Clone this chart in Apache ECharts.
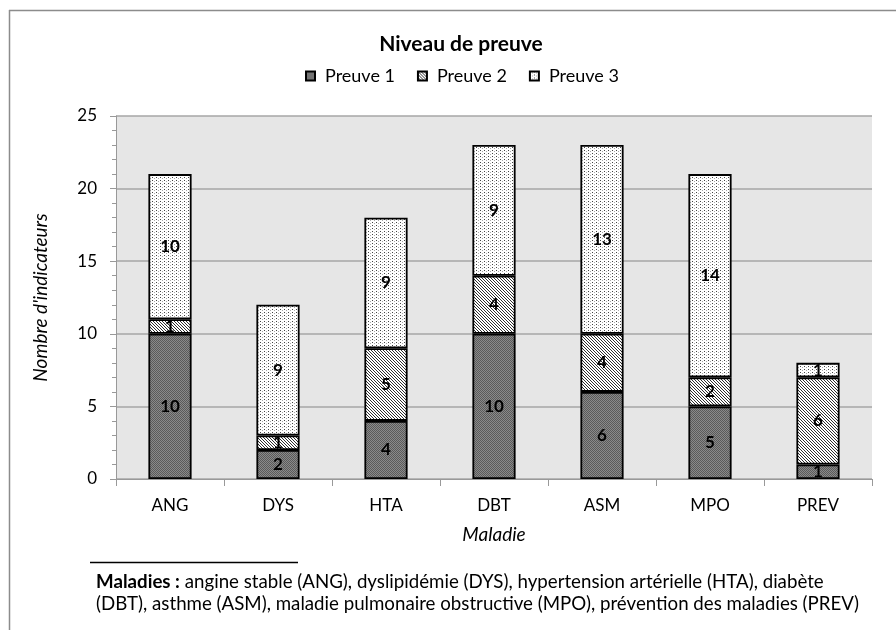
<!DOCTYPE html>
<html><head><meta charset="utf-8">
<script src="https://cdn.jsdelivr.net/npm/echarts@6/dist/echarts.min.js"></script>
<style>html,body{margin:0;padding:0;background:#fff}#c{width:896px;height:630px}</style>
</head><body><div id="c"></div>
<script>
const categories = ['ANG','DYS','HTA','DBT','ASM','MPO','PREV'];
const preuve1 = [10, 2, 4, 10, 6, 5, 1];
const preuve2 = [1, 1, 5, 4, 4, 2, 6];
const preuve3 = [10, 9, 9, 9, 13, 14, 1];
const seriesNames = ['Preuve 1','Preuve 2','Preuve 3'];
const yTicks = [0, 5, 10, 15, 20, 25];

const FONT = 'Lato';

function pat(w, h, draw) {
  const c = document.createElement('canvas');
  c.width = w; c.height = h;
  const g = c.getContext('2d');
  draw(g);
  return {image: c, repeat: 'repeat'};
}
const p1 = pat(2, 2, g => {
  g.fillStyle = '#8a8a8a'; g.fillRect(0,0,2,2);
  g.fillStyle = '#5a5a5a'; g.fillRect(0,0,1,1); g.fillRect(1,1,1,1);
});
const p2 = pat(3, 3, g => {
  g.fillStyle = '#ffffff'; g.fillRect(0,0,3,3);
  g.fillStyle = '#2e2e2e';
  for (let i = 0; i < 3; i++) g.fillRect(i, i, 1, 1);
});
const p3 = pat(4, 3, g => {
  g.fillStyle = '#ffffff'; g.fillRect(0,0,4,3);
  g.fillStyle = '#444444'; g.fillRect(0,0,1,1);
  g.fillStyle = '#aaaaaa'; g.fillRect(2,1,1,1);
});
const patterns = [p1, p2, p3];
const dataSets = [preuve1, preuve2, preuve3];

const chart = echarts.init(document.getElementById('c'), null, {renderer: 'canvas'});
const series = dataSets.map((d, i) => ({
  name: seriesNames[i],
  type: 'bar',
  stack: 'total',
  barWidth: '40%',
  data: d,
  itemStyle: {color: patterns[i], borderColor: '#000', borderWidth: 1.8},
  label: {show: true, position: 'inside', color: '#000', fontWeight: 'bold', fontSize: 17, fontFamily: FONT},
  emphasis: {disabled: true}
}));

chart.setOption({
  animation: false,
  textStyle: {fontFamily: FONT},
  title: {
    text: 'Niveau de preuve', left: 456, top: 29, textAlign: 'center',
    textStyle: {fontSize: 21, fontWeight: 'bold', color: '#000', fontFamily: FONT}
  },
  legend: {
    top: 62, left: 300, itemWidth: 9, itemHeight: 9, itemGap: 22,
    icon: 'rect',
    textStyle: {fontSize: 18, color: '#000', fontFamily: FONT, padding: [0,0,0,5]},
    data: seriesNames
  },
  grid: {left: 116, right: 24, top: 116, bottom: 151, containLabel: false,
         show: true, backgroundColor: '#e6e6e6', borderWidth: 0},
  xAxis: {
    type: 'category', data: categories,
    name: 'Maladie', nameLocation: 'middle', nameGap: 46,
    nameTextStyle: {fontStyle: 'italic', fontSize: 19, color: '#000', fontFamily: FONT},
    axisLine: {lineStyle: {color: '#999', width: 1}},
    axisTick: {show: true, length: 7, lineStyle: {color: '#999'}},
    axisLabel: {fontSize: 17, color: '#000', margin: 18, fontFamily: FONT}
  },
  yAxis: {
    type: 'value', min: 0, max: 25, interval: 5,
    name: 'Nombre d\'indicateurs', nameLocation: 'middle', nameGap: 66,
    nameTextStyle: {fontStyle: 'italic', fontSize: 19, color: '#000', fontFamily: FONT},
    axisLine: {show: true, lineStyle: {color: '#999', width: 1}},
    axisTick: {show: true, length: 6, lineStyle: {color: '#999'}},
    minorTick: {show: true, splitNumber: 5, length: 4, lineStyle: {color: '#999'}},
    splitLine: {show: true, lineStyle: {color: '#a6a6a6', width: 1.5}},
    axisLabel: {fontSize: 17, color: '#000', margin: 19, fontFamily: FONT,
      formatter: v => yTicks.includes(v) ? String(v) : ''}
  },
  graphic: [
    {type: 'line', shape: {x1: 9.5, y1: 10, x2: 9.5, y2: 630}, style: {stroke: '#8c8c8c', lineWidth: 1.5}, silent: true},
    {type: 'line', shape: {x1: 9, y1: 10.5, x2: 896, y2: 10.5}, style: {stroke: '#8c8c8c', lineWidth: 1.5}, silent: true},
    {type: 'line', shape: {x1: 90, y1: 562.5, x2: 298, y2: 562.5}, style: {stroke: '#000', lineWidth: 1.5}, silent: true},
    {type: 'text', left: 96, top: 571, silent: true,
     style: {text: '{b|Maladies :} angine stable (ANG), dyslipidémie (DYS), hypertension artérielle (HTA), diabète\n(DBT), asthme (ASM), maladie pulmonaire obstructive (MPO), prévention des maladies (PREV)',
       font: '18.7px Lato', fill: '#000', lineHeight: 22,
       rich: {b: {fontWeight: 'bold', fontSize: 18.7, fontFamily: FONT, fill: '#000', lineHeight: 22}}}}
  ],
  series: series
});
</script></body></html>
